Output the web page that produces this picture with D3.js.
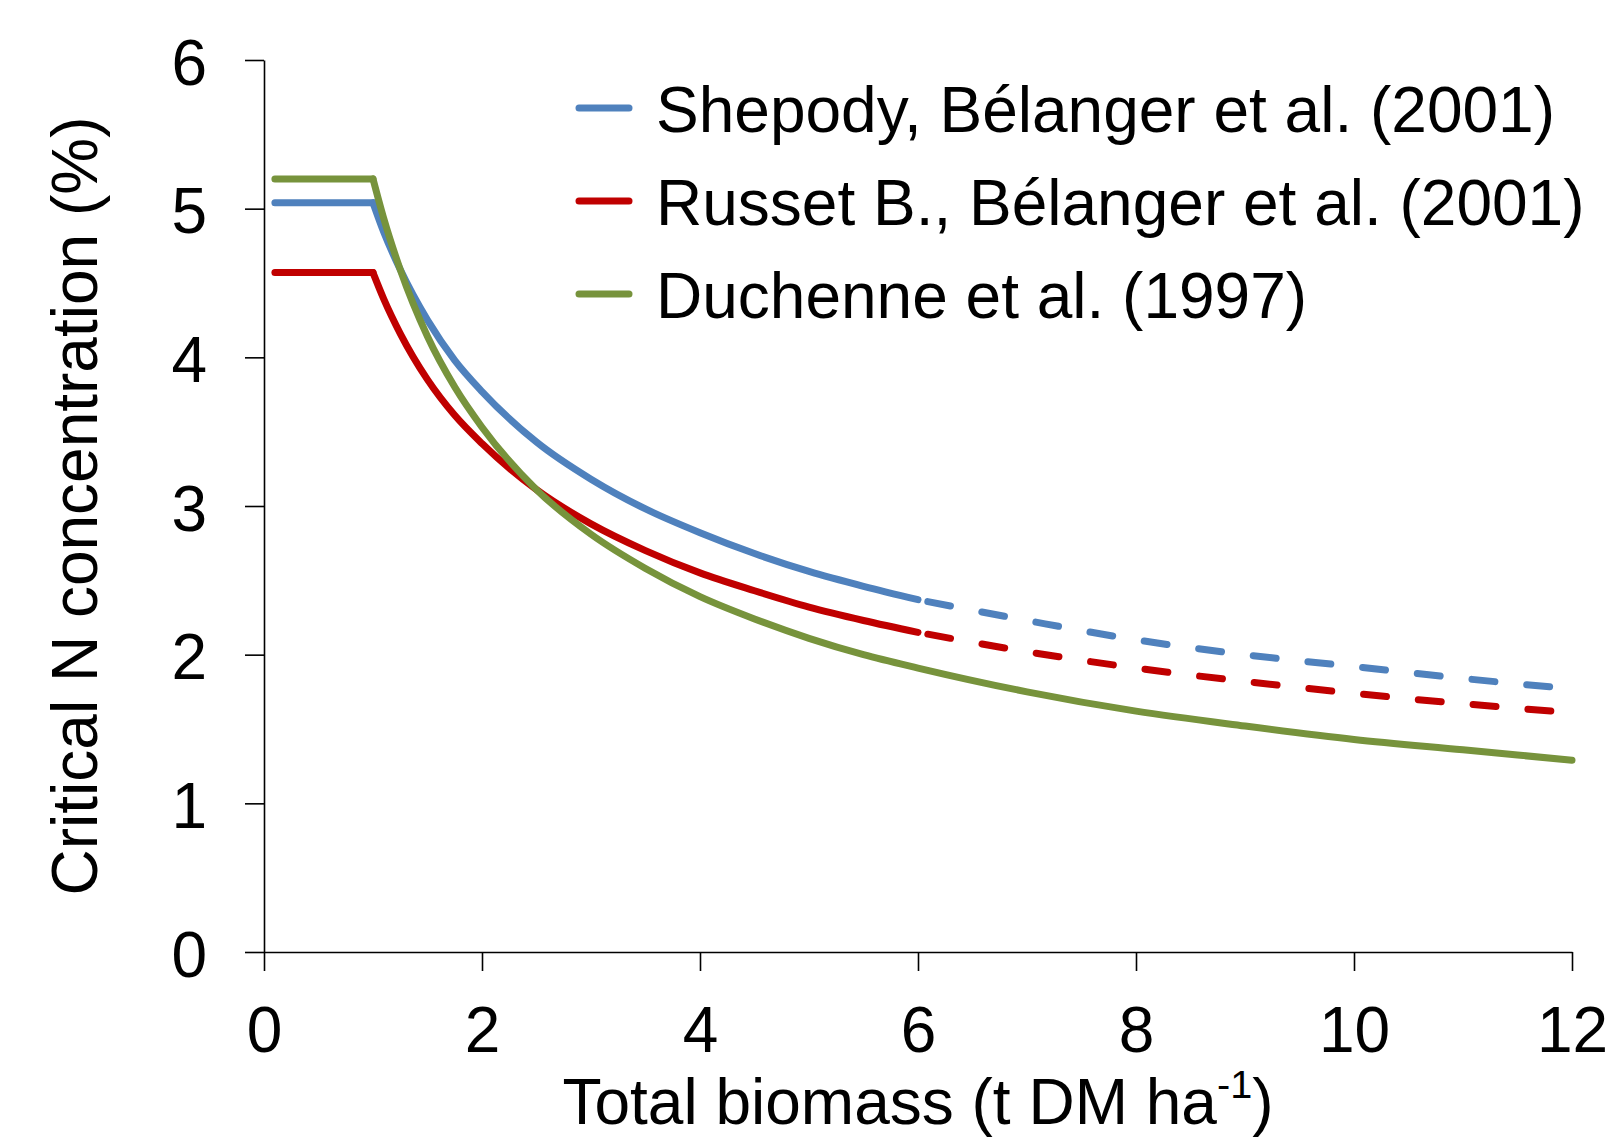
<!DOCTYPE html>
<html>
<head>
<meta charset="utf-8">
<script src="https://cdn.jsdelivr.net/npm/d3@7"></script>
<style>
  html, body { margin: 0; padding: 0; background: #fff; }
  svg { display: block; font-family: "Liberation Sans", Arial, sans-serif; }
</style>
</head>
<body>
<svg id="chart" width="1608" height="1140"></svg>
<script>
// ---- data ----
const biomass   = [0.1, 1, 1.1, 1.25, 1.5, 1.75, 2, 2.5, 3, 3.5, 4, 4.5, 5, 5.5, 6, 7, 8, 9, 10, 11, 12];
const shepody   = [5.04, 5.04, 4.84, 4.59, 4.25, 3.98, 3.77, 3.43, 3.18, 2.98, 2.82, 2.68, 2.56, 2.46, 2.37, 2.23, 2.10, 2.00, 1.92, 1.84, 1.77];
const russet    = [4.57, 4.57, 4.39, 4.16, 3.85, 3.61, 3.42, 3.11, 2.88, 2.70, 2.55, 2.43, 2.32, 2.23, 2.15, 2.02, 1.91, 1.82, 1.74, 1.67, 1.61];
const duchenne  = [5.20, 5.20, 4.93, 4.59, 4.14, 3.80, 3.53, 3.11, 2.81, 2.58, 2.39, 2.24, 2.11, 2.00, 1.91, 1.75, 1.62, 1.52, 1.43, 1.36, 1.29];
const seriesNames = ["Shepody, Bélanger et al. (2001)", "Russet B., Bélanger et al. (2001)", "Duchenne et al. (1997)"];
const seriesColors = ["#4F81BD", "#C00000", "#77933C"];
const solidUntil = [6, 6, 12];   // beyond this x the series is dashed (extrapolated)
const xTicks = [0, 2, 4, 6, 8, 10, 12];
const yTicks = [0, 1, 2, 3, 4, 5, 6];

const series = [shepody, russet, duchenne].map((vals, i) => ({
  name: seriesNames[i], color: seriesColors[i], solidUntil: solidUntil[i],
  pts: biomass.map((x, j) => ({x, y: vals[j]}))
}));

// ---- layout ----
const svg = d3.select("#chart");
const x0 = 264, x1 = 1572, y0 = 952, y1 = 60;
const x = d3.scaleLinear().domain([0, 12]).range([x0, x1]);
const y = d3.scaleLinear().domain([0, 6]).range([y0, y1]);
const FS = 64;

// axes
const yAxis = d3.axisLeft(y).tickValues(yTicks).tickSize(19).tickSizeOuter(0).tickPadding(38).tickFormat(d3.format("d"));
const xAxis = d3.axisBottom(x).tickValues(xTicks).tickSize(19).tickSizeOuter(0).tickPadding(36).tickFormat(d3.format("d"));

const gy = svg.append("g").attr("transform", `translate(${x0},0)`).call(yAxis);
const gx = svg.append("g").attr("transform", `translate(0,${y0})`).call(xAxis);
[gx, gy].forEach(g => {
  g.selectAll("path.domain").attr("stroke", "#000").attr("stroke-width", 1.6);
  g.selectAll(".tick line").attr("stroke", "#000").attr("stroke-width", 1.6);
  g.selectAll(".tick text").attr("font-size", FS).attr("fill", "#000")
    .attr("font-family", "'Liberation Sans', Arial, sans-serif");
});
gy.selectAll(".tick text").attr("dy", "0.38em");

// lines
const flatLine = d3.line().x(d => x(d.x)).y(d => y(d.y));
const curveLine = d3.line().x(d => x(d.x)).y(d => y(d.y)).curve(d3.curveMonotoneX);
const plot = svg.append("g");
series.forEach(s => {
  const flat = s.pts.filter(p => p.x <= 1);
  const solid = s.pts.filter(p => p.x >= 1 && p.x <= s.solidUntil);
  const dashed = s.pts.filter(p => p.x >= s.solidUntil);
  const common = sel => sel.attr("fill", "none").attr("stroke", s.color)
    .attr("stroke-width", 7).attr("stroke-linecap", "round").attr("stroke-linejoin", "round");
  plot.append("path").datum(flat).attr("d", flatLine).call(common);
  plot.append("path").datum(solid).attr("d", curveLine).call(common);
  if (dashed.length > 1) {
    plot.append("path").datum(dashed).attr("d", curveLine).call(common)
      .attr("stroke-dasharray", "23,32").attr("stroke-dashoffset", 45);
  }
});

// legend
const legend = svg.append("g");
series.forEach((s, i) => {
  const ly = 108 + i * 93;
  legend.append("line").attr("x1", 579).attr("x2", 629).attr("y1", ly).attr("y2", ly)
    .attr("stroke", s.color).attr("stroke-width", 7).attr("stroke-linecap", "round");
  legend.append("text").attr("x", 656).attr("y", ly + 24).attr("font-size", FS)
    .attr("fill", "#000").text(s.name);
});

// axis titles
const xt = svg.append("text").attr("x", (x0 + x1) / 2).attr("y", 1124)
  .attr("text-anchor", "middle").attr("font-size", FS).attr("fill", "#000");
xt.append("tspan").text("Total biomass (t DM ha");
xt.append("tspan").attr("font-size", FS * 0.62).attr("dy", -26).text("-1");
xt.append("tspan").attr("dy", 26).text(")");

svg.append("text").attr("transform", `translate(97,${(y0 + y1) / 2}) rotate(-90)`)
  .attr("text-anchor", "middle").attr("font-size", FS).attr("fill", "#000")
  .text("Critical N concentration (%)");
</script>
</body>
</html>
